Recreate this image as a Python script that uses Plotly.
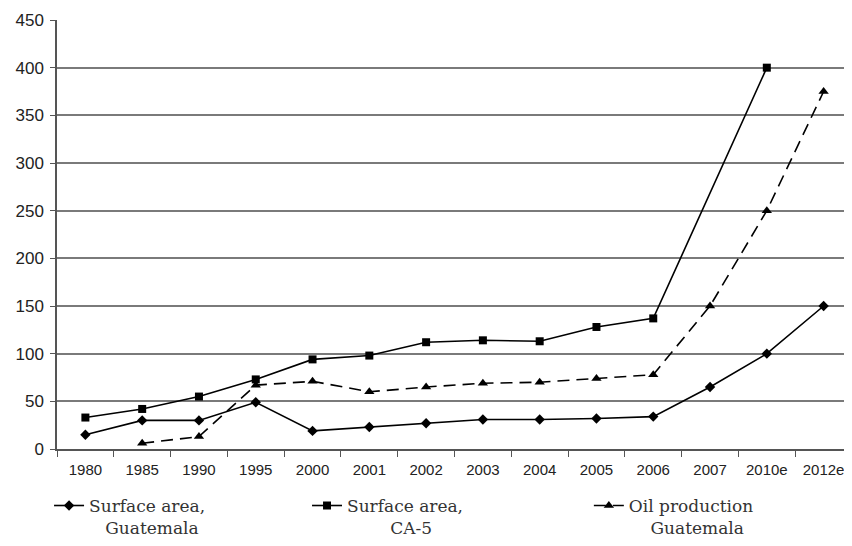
import plotly.graph_objects as go

years = ['1980', '1985', '1990', '1995', '2000', '2001', '2002', '2003',
         '2004', '2005', '2006', '2007', '2010e', '2012e']

area_gt = [15, 30, 30, 49, 19, 23, 27, 31, 31, 32, 34, 65, 100, 150]
area_ca5 = [33, 42, 55, 73, 94, 98, 112, 114, 113, 128, 137, None, 400, None]
oil_gt = [None, 6, 13, 67, 71, 60, 65, 69, 70, 74, 78, 150, 250, 375]

y_ticks = list(range(0, 451, 50))

NB = '\u00a0'
names = ['Surface area,<br>' + NB * 3 + 'Guatemala',
         'Surface area,<br>' + NB * 8 + 'CA-5',
         'Oil production<br>' + NB * 4 + 'Guatemala']

fig = go.Figure()

fig.add_trace(go.Scatter(x=years, y=area_gt, name=names[0], mode='lines+markers',
                         line=dict(color='black', width=1.6),
                         marker=dict(symbol='diamond', size=8, color='black'),
                         legend='legend'))
fig.add_trace(go.Scatter(x=years, y=area_ca5, name=names[1], mode='lines+markers',
                         connectgaps=True,
                         line=dict(color='black', width=1.6),
                         marker=dict(symbol='square', size=8, color='black'),
                         legend='legend2'))
fig.add_trace(go.Scatter(x=years, y=oil_gt, name=names[2], mode='lines+markers',
                         line=dict(color='black', width=1.6, dash='12px,7px'),
                         marker=dict(symbol='triangle-up', size=9, color='black'),
                         legend='legend3'))

leg_font = dict(family='DejaVu Serif', size=17, color='#333')
def leg(x):
    return dict(x=x, y=-0.226, xref='paper', yref='paper',
                xanchor='left', yanchor='bottom', valign='top', font=leg_font,
                bgcolor='rgba(0,0,0,0)', itemwidth=30)

# page body has an 8px margin, so the figure is offset by 8px on screen
fig.update_layout(
    width=852, height=546,
    margin=dict(l=49, r=8, t=12, b=105),
    plot_bgcolor='white', paper_bgcolor='white',
    showlegend=True,
    legend=dict(leg(-0.01)),
    legend2=dict(leg(0.3145)),
    legend3=dict(leg(0.669)),
    xaxis=dict(type='category', categoryorder='array', categoryarray=years,
               range=[-0.5, len(years) - 0.5], automargin=False,
               showline=True, linecolor='#555', linewidth=1.5,
               ticks='outside', tickson='boundaries', ticklen=6, tickcolor='#555',
               ticklabelstandoff=6,
               showgrid=False, tickfont=dict(family='Liberation Sans', size=15, color='#222')),
    yaxis=dict(range=[0, 450], tickvals=y_ticks, showline=True, linecolor='#555',
               automargin=False,
               linewidth=1.5, ticks='outside', ticklen=5, tickcolor='#555',
               ticklabelstandoff=3,
               showgrid=True, gridcolor='#7a7a7a', gridwidth=1.5, zeroline=False,
               tickfont=dict(family='Liberation Sans', size=17, color='#222')),
)

fig.write_html("out.html")
